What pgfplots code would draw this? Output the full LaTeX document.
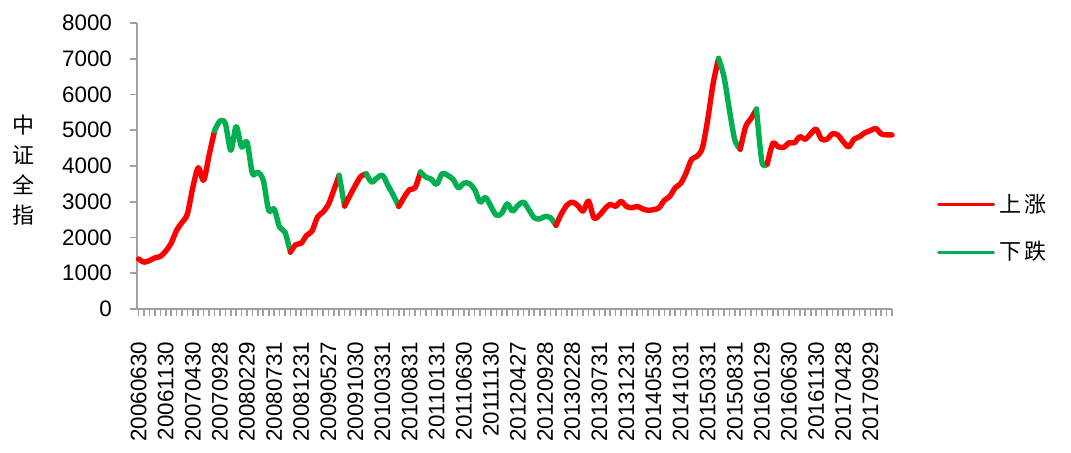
\documentclass[border=0pt]{standalone}
\usepackage{pgfplots}
\pgfplotsset{compat=1.18}
\usepackage{pgfplotstable}
\usepackage{fontspec}
\setmainfont{Liberation Sans}
\newfontfamily\cjk{Noto Sans CJK SC}
\definecolor{upred}{RGB}{255,0,0}
\definecolor{downgreen}{RGB}{0,176,80}
\definecolor{axgray}{RGB}{160,160,160}

\pgfplotstableread{
i v
0 1400
1 1310
2 1355
3 1430
4 1470
5 1620
6 1840
7 2200
8 2420
9 2660
10 3400
11 3950
12 3600
13 4300
14 4980
15 5260
16 5190
17 4440
18 5100
19 4530
20 4670
21 3790
22 3830
23 3600
24 2760
25 2800
26 2290
27 2150
28 1590
29 1800
30 1840
31 2060
32 2180
33 2570
34 2710
35 2920
36 3320
37 3740
38 2880
39 3180
40 3460
41 3710
42 3780
43 3550
44 3670
45 3740
46 3460
47 3180
48 2870
49 3130
50 3340
51 3390
52 3830
53 3690
54 3630
55 3490
56 3790
57 3740
58 3630
59 3390
60 3520
61 3510
62 3340
63 2990
64 3120
65 2870
66 2620
67 2680
68 2940
69 2740
70 2900
71 2990
72 2780
73 2550
74 2520
75 2590
76 2550
77 2340
78 2660
79 2900
80 2990
81 2900
82 2740
83 3020
84 2550
85 2620
86 2800
87 2930
88 2870
89 3010
90 2870
91 2830
92 2870
93 2800
94 2760
95 2780
96 2830
97 3040
98 3150
99 3390
100 3510
101 3800
102 4180
103 4270
104 4500
105 5300
106 6310
107 7010
108 6500
109 5570
110 4730
111 4470
112 5100
113 5330
114 5590
115 4120
116 4060
117 4630
118 4540
119 4520
120 4650
121 4650
122 4820
123 4750
124 4900
125 5030
126 4750
127 4750
128 4900
129 4870
130 4680
131 4540
132 4750
133 4820
134 4930
135 4990
136 5050
137 4900
138 4870
139 4870
}\data

\begin{document}
\begin{tikzpicture}
\useasboundingbox (-68.5pt,-72pt) rectangle (467pt,154.5pt);
\begin{axis}[
  at={(0,0)}, anchor=south west,
  width=377.5pt, height=143pt, scale only axis,
  xmin=-0.3, xmax=139, ymin=0, ymax=8000,
  axis x line*=bottom, axis y line*=left,
  axis line style={axgray, line width=1pt, -},
  ytick={0,1000,...,8000},
  xtick={0,5,...,135},
  xticklabels={20060630,20061130,20070430,20070928,20080229,20080731,20081231,20090527,20091030,20100331,20100831,20110131,20110630,20111130,20120427,20120928,20130228,20130731,20131231,20140530,20141031,20150331,20150831,20160129,20160630,20161130,20170428,20170929},
  minor xtick={0,1,...,139},
  tick align=outside,
  major tick length=3.5pt, minor tick length=3.5pt,
  tick style={axgray, line width=0.8pt},
  ticklabel style={font=\fontsize{11.2}{13}\selectfont},
  xticklabel style={rotate=90, anchor=east, xshift=-9.5pt},
  yticklabel style={xshift=-5.5pt},
  /pgf/number format/assume math mode=true,
  /pgf/number format/1000 sep={},
  scaled y ticks=false,
  clip=false,
  legend style={at={(1,0.281)}, anchor=west, xshift=22.5pt, draw=none, fill=none,
    inner sep=0pt, outer sep=0pt, row sep=9pt,
    font=\cjk\fontsize{11}{12}\selectfont,
    /tikz/every even column/.append style={column sep=5pt}},
  legend image code/.code={\draw[#1, line width=1.5pt] (0pt,0pt) -- (27.5pt,0pt);},
  legend cell align=left,
]
\addlegendimage{upred}
\addlegendentry{上\hspace{1.5pt}涨}
\addlegendimage{downgreen}
\addlegendentry{下\hspace{1.5pt}跌}
\pgfplotsset{every axis plot/.append style={line width=2.7pt, smooth, line join=round, line cap=round, forget plot}}
\addplot[upred, restrict x to domain=0:14] table[x=i,y=v] {\data};
\addplot[downgreen, restrict x to domain=14:28] table[x=i,y=v] {\data};
\addplot[upred, restrict x to domain=28:37] table[x=i,y=v] {\data};
\addplot[downgreen, restrict x to domain=37:38] table[x=i,y=v] {\data};
\addplot[upred, restrict x to domain=38:42] table[x=i,y=v] {\data};
\addplot[downgreen, restrict x to domain=42:48] table[x=i,y=v] {\data};
\addplot[upred, restrict x to domain=48:52] table[x=i,y=v] {\data};
\addplot[downgreen, restrict x to domain=52:77] table[x=i,y=v] {\data};
\addplot[upred, restrict x to domain=77:107] table[x=i,y=v] {\data};
\addplot[downgreen, restrict x to domain=107:111] table[x=i,y=v] {\data};
\addplot[upred, restrict x to domain=111:114] table[x=i,y=v] {\data};
\addplot[downgreen, restrict x to domain=114:116] table[x=i,y=v] {\data};
\addplot[upred, restrict x to domain=116:139] table[x=i,y=v] {\data};
\end{axis}
\node[font=\cjk\fontsize{11}{15}\selectfont, align=center] at (-56.5pt,69.25pt) {中\\证\\全\\指};
\end{tikzpicture}
\end{document}
